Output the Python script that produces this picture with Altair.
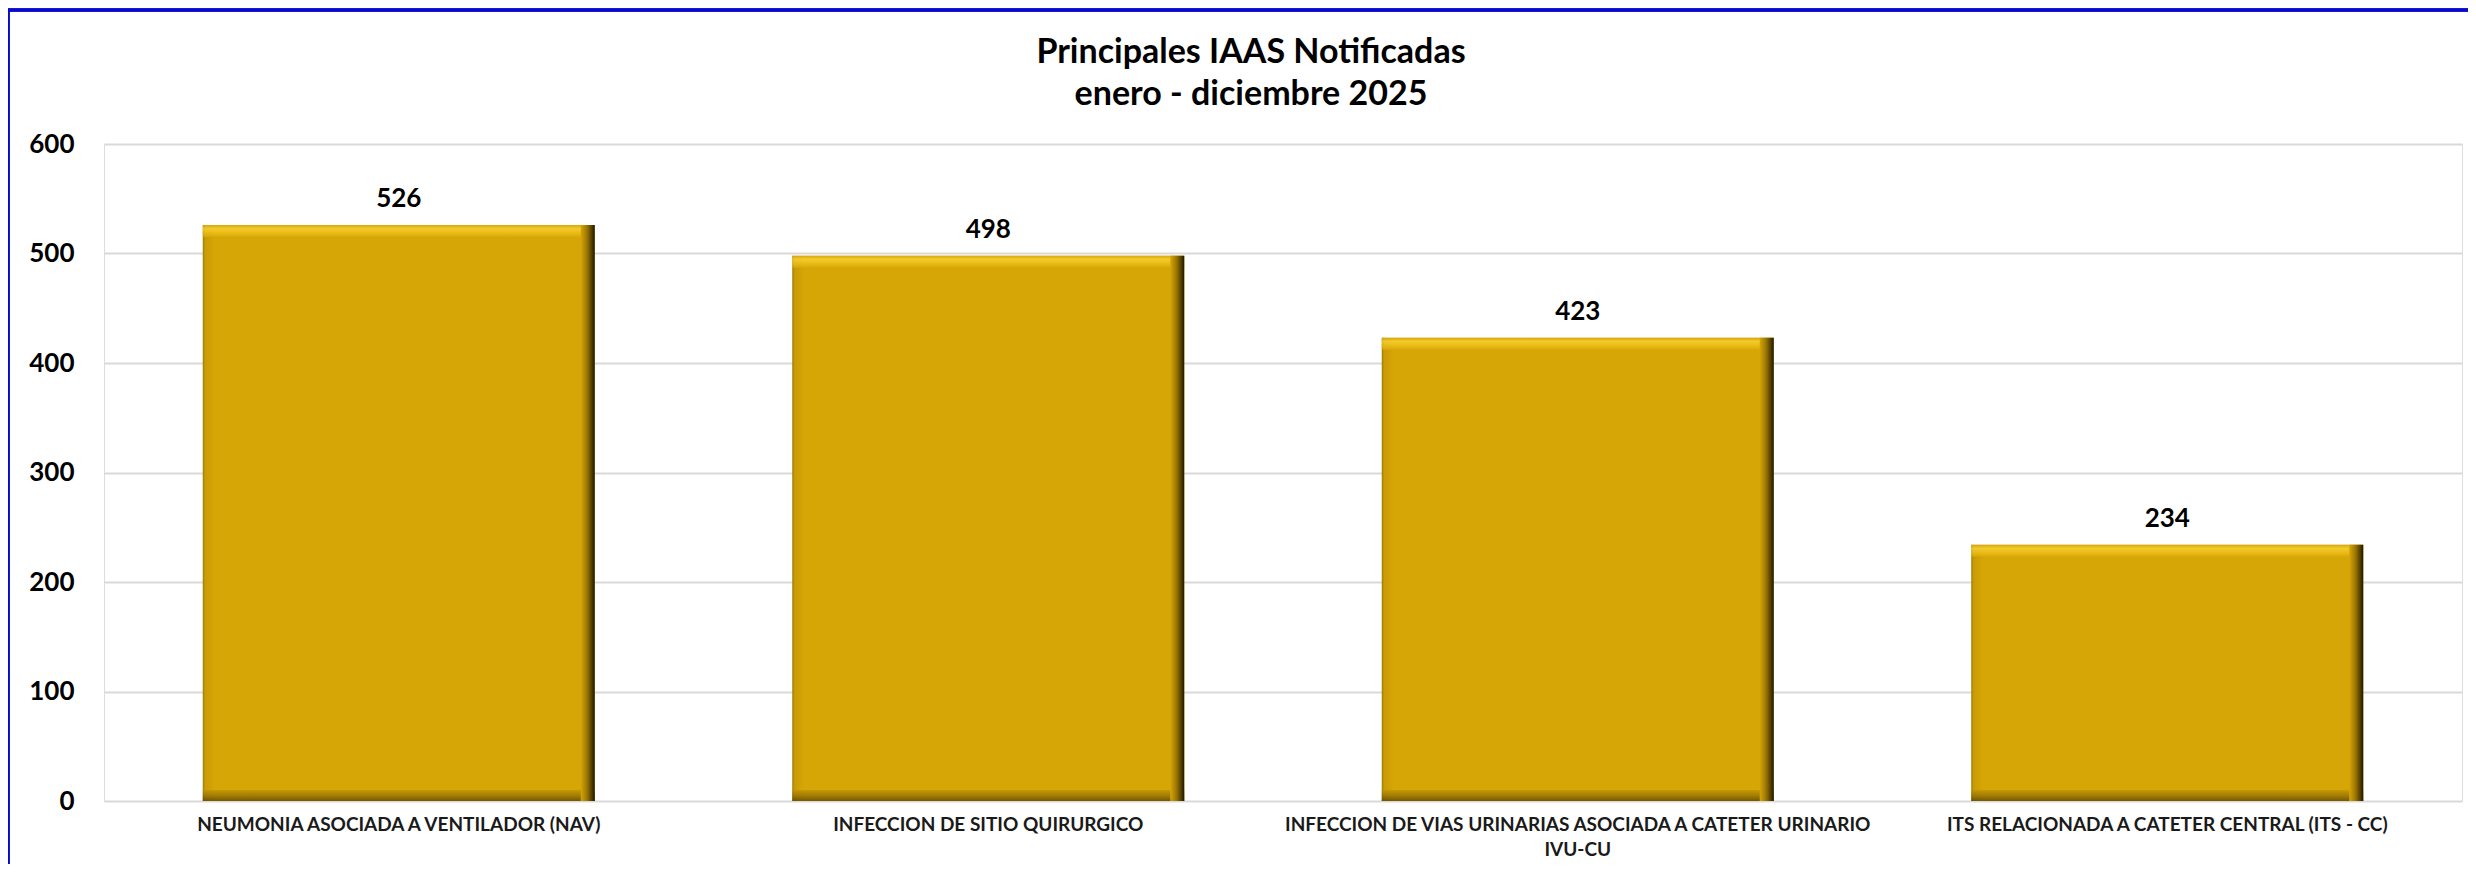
import altair as alt
import pandas as pd

# ---- data ----
categories = [
    "NEUMONIA ASOCIADA A VENTILADOR (NAV)",
    "INFECCION DE SITIO QUIRURGICO",
    "INFECCION DE VIAS URINARIAS ASOCIADA A CATETER URINARIO\nIVU-CU",
    "ITS RELACIONADA A CATETER CENTRAL (ITS - CC)",
]
values = [526, 498, 423, 234]
y_ticks = [0, 100, 200, 300, 400, 500, 600]
title_lines = ["Principales IAAS Notificadas", "enero - diciembre 2025"]

df = pd.DataFrame({"cat": categories, "val": values})

FONT = "Lato"
W, H = 2358, 657
BAR_W = 392

x_enc = alt.X(
    "cat:N",
    sort=categories,
    scale=alt.Scale(paddingInner=0.335, paddingOuter=0.1675),
    axis=alt.Axis(
        title=None,
        labelAngle=0,
        labelExpr="split(datum.label, '\\n')",
        labelFont=FONT,
        labelFontSize=19,
        labelFontWeight="bold",
        labelColor="#1a1a1a",
        labelLineHeight=25,
        labelPadding=14,
        labelLimit=0,
        domain=False,
        ticks=False,
        grid=False,
    ),
)
y_enc = alt.Y(
    "val:Q",
    scale=alt.Scale(domain=[0, 600], nice=False),
    axis=alt.Axis(
        title=None,
        values=y_ticks,
        labelFont=FONT,
        labelFontSize=26,
        labelFontWeight="bold",
        labelColor="#000000",
        labelPadding=30,
        domain=False,
        ticks=False,
        grid=True,
        gridColor="#D9D9D9",
        gridWidth=2,
    ),
)

base = alt.Chart(df).encode(x=x_enc)

bars = base.mark_bar(
    size=BAR_W,
    color=alt.Gradient(
        gradient="linear", x1=0, y1=0, x2=1, y2=0,
        stops=[
            alt.GradientStop(offset=0, color="#9C7A03"),
            alt.GradientStop(offset=0.006, color="#C99B05"),
            alt.GradientStop(offset=0.03, color="#D6A506"),
            alt.GradientStop(offset=1, color="#D6A506"),
        ],
    ),
).encode(y=y_enc)

top_bevel = base.mark_tick(
    orient="horizontal",
    size=BAR_W,
    thickness=12,
    yOffset=6,
    color=alt.Gradient(
        gradient="linear", x1=0, y1=0, x2=0, y2=1,
        stops=[
            alt.GradientStop(offset=0, color="#D9A808"),
            alt.GradientStop(offset=0.3, color="#FFDB3E"),
            alt.GradientStop(offset=0.65, color="#F3C51E"),
            alt.GradientStop(offset=1, color="#DCAA07"),
        ],
    ),
).encode(y=alt.Y("val:Q"))

bottom_bevel = base.mark_tick(
    orient="horizontal",
    size=BAR_W,
    thickness=11,
    yOffset=-5.5,
    color=alt.Gradient(
        gradient="linear", x1=0, y1=0, x2=0, y2=1,
        stops=[
            alt.GradientStop(offset=0, color="#C09306"),
            alt.GradientStop(offset=0.5, color="#8E6C03"),
            alt.GradientStop(offset=1, color="#4A3800"),
        ],
    ),
).encode(y=alt.datum(0))

right_bevel = base.mark_bar(
    size=14,
    xOffset=BAR_W / 2 - 7,
    color=alt.Gradient(
        gradient="linear", x1=0, y1=0, x2=1, y2=0,
        stops=[
            alt.GradientStop(offset=0, color="#D6A506"),
            alt.GradientStop(offset=0.45, color="#9A7504"),
            alt.GradientStop(offset=0.8, color="#4E3B00"),
            alt.GradientStop(offset=1, color="#1E1700"),
        ],
    ),
).encode(y=alt.Y("val:Q"))

labels = base.mark_text(
    font=FONT,
    fontSize=26,
    fontWeight="bold",
    color="#000000",
    baseline="alphabetic",
    dy=-18,
).encode(y=alt.Y("val:Q"), text=alt.Text("val:Q"))

frame = alt.Chart(df).mark_rect(
    fill=None, stroke="#0A0ACD", strokeWidth=3
).encode(
    x=alt.value(-96), x2=alt.value(2420),
    y=alt.value(-134), y2=alt.value(760),
)

chart = (
    alt.layer(frame, bars, top_bevel, bottom_bevel, right_bevel, labels)
    .properties(
        width=W,
        height=H,
        autosize=alt.AutoSizeParams(type="none"),
        padding={"left": 96, "top": 136, "right": 6, "bottom": 63},
        title=alt.Title(
            text=title_lines,
            anchor="middle",
            baseline="bottom",
            dx=-32,
            offset=-137,
            font=FONT,
            fontSize=34,
            fontWeight="bold",
            color="#000000",
            lineHeight=42,
        ),
    )
    .configure_view(stroke=None)
    .configure(background="#FFFFFF")
)

chart.save("out.html", embed_options={"renderer": "svg", "actions": False})
